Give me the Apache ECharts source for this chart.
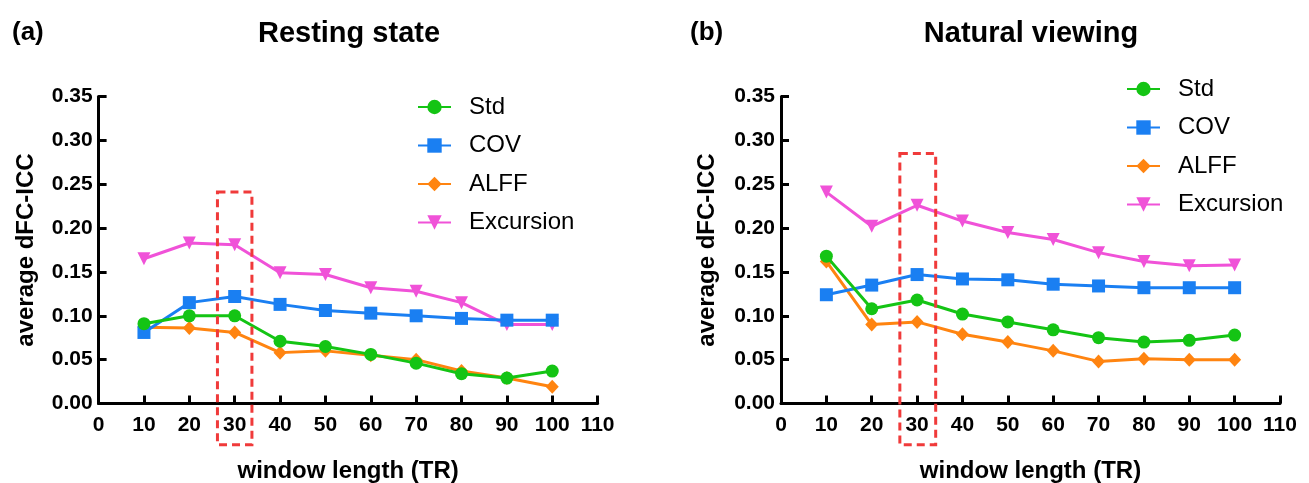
<!DOCTYPE html>
<html>
<head>
<meta charset="utf-8">
<title>dFC-ICC vs window length</title>
<script src="https://cdn.jsdelivr.net/npm/echarts@6/dist/echarts.min.js"></script>
<style>
  html, body { margin: 0; padding: 0; background: #fff; }
  #main { width: 1309px; height: 483px; }
</style>
</head>
<body>
<div id="main"></div>
<script>
// window length (TR)
var windowLen = [10, 20, 30, 40, 50, 60, 70, 80, 90, 100]
var xTicks = [0, 110, 10]          // min, max, interval
var yTicks = [0, 0.35, 0.05]

// (a) resting state
var restStd = [0.091, 0.100, 0.100, 0.071, 0.065, 0.056, 0.046, 0.034, 0.029, 0.037]
var restCov = [0.081, 0.115, 0.122, 0.113, 0.106, 0.103, 0.100, 0.097, 0.095, 0.095]
var restAlff = [0.087, 0.086, 0.081, 0.058, 0.060, 0.055, 0.050, 0.037, 0.029, 0.019]
var restExc = [0.165, 0.183, 0.181, 0.149, 0.147, 0.132, 0.128, 0.115, 0.090, 0.090]

// (b) natural viewing
var natStd = [0.168, 0.108, 0.118, 0.102, 0.093, 0.084, 0.075, 0.070, 0.072, 0.078]
var natCov = [0.124, 0.135, 0.147, 0.142, 0.141, 0.136, 0.134, 0.132, 0.132, 0.132]
var natAlff = [0.162, 0.090, 0.093, 0.079, 0.070, 0.060, 0.048, 0.051, 0.050, 0.050]
var natExc = [0.241, 0.202, 0.226, 0.208, 0.195, 0.187, 0.172, 0.162, 0.157, 0.158]

var names = ['Std', 'COV', 'ALFF', 'Excursion']
var colors = ['#14c414', '#1a7ff2', '#ff8410', '#f052d8']
var symbols = ['circle', 'rect', 'diamond', 'triangle']

// highlighted window (x from, x to, y top, y bottom) per panel
var boxA = [26.2, 33.8, 0.241, -0.047]
var boxB = [26.2, 34.1, 0.285, -0.047]

var FONT = 'Liberation Sans, Arial, Helvetica, sans-serif'

function pairs(ys) {
  return windowLen.map(function (x, i) { return [x, ys[i]] })
}

function makeSeries(gi, lists) {
  return lists.map(function (ys, k) {
    return {
      name: names[k],
      type: 'line',
      xAxisIndex: gi,
      yAxisIndex: gi,
      data: pairs(ys),
      symbol: symbols[k],
      symbolSize: k === 2 ? [13, 14] : 13,
      symbolRotate: k === 3 ? 180 : 0,
      z: [5, 4, 3, 2][k],
      lineStyle: { width: 3, color: colors[k] },
      itemStyle: { color: colors[k] }
    }
  })
}

function xAxisOf(gi) {
  return {
    gridIndex: gi,
    type: 'value',
    min: xTicks[0], max: xTicks[1], interval: xTicks[2],
    name: 'window length (TR)',
    nameLocation: 'middle',
    nameGap: 56,
    nameTextStyle: { fontFamily: FONT, fontWeight: 'bold', fontSize: 24, color: '#000' },
    axisLine: { lineStyle: { color: '#000', width: 3 } },
    axisTick: { inside: true, length: 8, lineStyle: { color: '#000', width: 3 } },
    axisLabel: { margin: 11, fontFamily: FONT, fontWeight: 'bold', fontSize: 21, color: '#000' },
    splitLine: { show: false }
  }
}

function yAxisOf(gi, gap) {
  return {
    gridIndex: gi,
    type: 'value',
    min: yTicks[0], max: yTicks[1], interval: yTicks[2],
    name: 'average dFC-ICC',
    nameLocation: 'middle',
    nameGap: gap,
    nameTextStyle: { fontFamily: FONT, fontWeight: 'bold', fontSize: 24, color: '#000' },
    axisLine: { show: true, lineStyle: { color: '#000', width: 3 } },
    axisTick: { show: true, inside: true, length: 8, lineStyle: { color: '#000', width: 3 } },
    axisLabel: {
      margin: 6, fontFamily: FONT, fontWeight: 'bold', fontSize: 21, color: '#000',
      formatter: function (v) { return v.toFixed(2) }
    },
    splitLine: { show: false }
  }
}

function legendOf(left, top) {
  return {
    orient: 'vertical',
    left: left, top: top,
    itemWidth: 33, itemHeight: 18, itemGap: 14.5,
    data: names,
    selectedMode: false,
    textStyle: { fontFamily: FONT, fontSize: 24, color: '#000', padding: [0, 0, 0, 13] }
  }
}

var chart = echarts.init(document.getElementById('main'))
var option = {
  animation: false,
  backgroundColor: '#fff',
  title: [
    { text: '(a)', left: 7, top: 15, textStyle: { fontFamily: FONT, fontWeight: 'bold', fontSize: 26, color: '#000' } },
    { text: 'Resting state', left: 344, top: 14, textAlign: 'center', textStyle: { fontFamily: FONT, fontWeight: 'bold', fontSize: 29, color: '#000' } },
    { text: '(b)', left: 685, top: 15, textStyle: { fontFamily: FONT, fontWeight: 'bold', fontSize: 26, color: '#000' } },
    { text: 'Natural viewing', left: 1026, top: 14, textAlign: 'center', textStyle: { fontFamily: FONT, fontWeight: 'bold', fontSize: 29, color: '#000' } }
  ],
  legend: [legendOf(412, 90), legendOf(1121, 72)],
  grid: [
    { left: 98.6, top: 96.5, width: 499, height: 307, outerBoundsMode: 'none' },
    { left: 781, top: 96.5, width: 499, height: 307, outerBoundsMode: 'none' }
  ],
  xAxis: [xAxisOf(0), xAxisOf(1)],
  yAxis: [yAxisOf(0, 60), yAxisOf(1, 62)],
  series: makeSeries(0, [restStd, restCov, restAlff, restExc])
    .concat(makeSeries(1, [natStd, natCov, natAlff, natExc]))
}
chart.setOption(option)

// dashed red box around window length 30
function boxGraphic(gi, b) {
  var p1 = chart.convertToPixel({ gridIndex: gi }, [b[0], b[2]])
  var p2 = chart.convertToPixel({ gridIndex: gi }, [b[1], b[3]])
  return {
    type: 'rect',
    z: 10,
    shape: { x: p1[0], y: p1[1], width: p2[0] - p1[0], height: p2[1] - p1[1] },
    style: { fill: 'none', stroke: '#f03a3a', lineWidth: 3, lineDash: [8, 5] }
  }
}
chart.setOption({ graphic: [boxGraphic(0, boxA), boxGraphic(1, boxB)] })
</script>
</body>
</html>
